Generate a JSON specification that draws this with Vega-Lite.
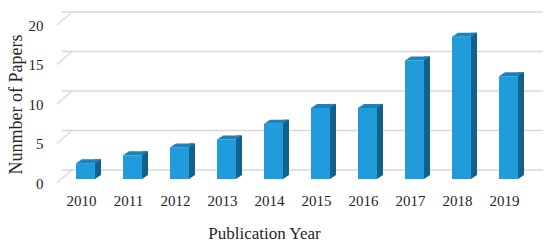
{
  "$schema": "https://vega.github.io/schema/vega-lite/v6.json",
  "width": 470,
  "height": 158,
  "autosize": {"type": "none"},
  "padding": {"left": 62, "top": 21, "right": 18, "bottom": 67},
  "background": "#ffffff",
  "config": {"view": {"stroke": null}},
  "datasets": {
    "papers": [
      {"year": "2010", "count": 2},
      {"year": "2011", "count": 3},
      {"year": "2012", "count": 4},
      {"year": "2013", "count": 5},
      {"year": "2014", "count": 7},
      {"year": "2015", "count": 9},
      {"year": "2016", "count": 9},
      {"year": "2017", "count": 15},
      {"year": "2018", "count": 18},
      {"year": "2019", "count": 13}
    ],
    "grid": [{"v": 0}, {"v": 5}, {"v": 10}, {"v": 15}, {"v": 20}]
  },
  "layer": [
    {
      "data": {"name": "grid"},
      "mark": {"type": "rule", "color": "#d9d9d9", "strokeWidth": 1.3, "yOffset": -9, "xOffset": 11},
      "encoding": {
        "y": {"field": "v", "type": "quantitative", "scale": {"domain": [0, 20], "nice": false}}
      }
    },
    {
      "data": {"name": "grid"},
      "mark": {"type": "rule", "color": "#d9d9d9", "strokeWidth": 1.3, "xOffset": -5, "x2Offset": 10, "yOffset": 4, "y2Offset": -9},
      "encoding": {
        "x": {
          "datum": "2010", "type": "nominal", "bandPosition": 0,
          "scale": {"paddingInner": 0, "paddingOuter": 0},
          "axis": {
            "title": "Publication Year", "labelAngle": 0, "domain": false, "ticks": false, "bandPosition": 0.5,
            "labelOffset": -4, "labelPadding": 14,
            "labelFont": "Liberation Serif", "labelFontSize": 15, "labelColor": "#262626",
            "titleFont": "Liberation Serif", "titleFontSize": 17, "titleFontWeight": "normal", "titleColor": "#262626",
            "titleX": 202, "titleY": 59, "titleBaseline": "alphabetic"
          }
        },
        "x2": {"datum": "2010", "bandPosition": 0},
        "y": {"field": "v", "type": "quantitative"},
        "y2": {"field": "v"}
      }
    },
    {
      "data": {"name": "papers"},
      "mark": {"type": "bar", "width": 6, "xOffset": 12.5, "yOffset": -4, "y2Offset": -4, "color": "#13618a"},
      "encoding": {
        "x": {"field": "year", "type": "nominal"},
        "y": {"field": "count", "type": "quantitative"},
        "y2": {"datum": 0}
      }
    },
    {
      "data": {"name": "papers"},
      "mark": {"type": "point", "filled": true, "opacity": 1, "strokeWidth": 0, "size": 36, "xOffset": 12.5, "color": "#13618a", "shape": "M -1 0 L -1 -1.333 L 1 -1.333 Z"},
      "encoding": {
        "x": {"field": "year", "type": "nominal"},
        "y": {"datum": 0, "type": "quantitative"}
      }
    },
    {
      "data": {"name": "papers"},
      "mark": {"type": "bar", "width": 19, "color": "#209cdc"},
      "encoding": {
        "x": {"field": "year", "type": "nominal"},
        "y": {
          "field": "count", "type": "quantitative",
          "axis": {
            "title": "Nunmber of Papers", "tickCount": 4, "grid": false, "domain": false, "ticks": false,
            "labelOffset": 4, "labelPadding": 19, "labelOverlap": false,
            "labelFont": "Liberation Serif", "labelFontSize": 15, "labelColor": "#262626",
            "titleFont": "Liberation Serif", "titleFontSize": 18, "titleFontWeight": "normal", "titleColor": "#262626",
            "titleX": -41, "titleY": 83, "titleBaseline": "alphabetic"
          }
        }
      }
    },
    {
      "data": {"name": "papers"},
      "mark": {"type": "point", "filled": true, "opacity": 1, "strokeWidth": 0, "size": 361, "color": "#1b82bb", "shape": "M -1 0 L 1 0 L 1.632 -0.421 L -0.368 -0.421 Z"},
      "encoding": {
        "x": {"field": "year", "type": "nominal"},
        "y": {"field": "count", "type": "quantitative"}
      }
    }
  ]
}
